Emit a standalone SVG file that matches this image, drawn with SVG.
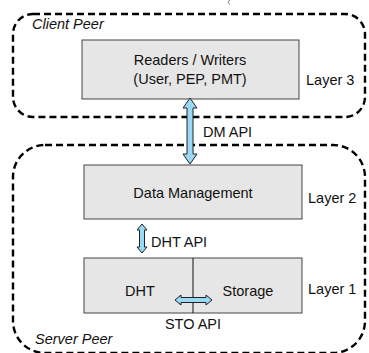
<svg xmlns="http://www.w3.org/2000/svg" width="369" height="353" viewBox="0 0 369 353">
  <defs>
    <style>
      .peer { fill: none; stroke: #000; stroke-width: 2.4; stroke-dasharray: 7 4; }
      .box { fill: #e6e6e6; stroke: #444; stroke-width: 1; }
      .txt { font-family: "Liberation Sans", Arial, sans-serif; font-size: 14.5px; fill: #111; }
      .mid { text-anchor: middle; }
      .it { font-style: italic; }
      .arrow { fill: #99d9f5; stroke: #222; stroke-width: 1; stroke-linejoin: miter; }
    </style>
  </defs>
  <rect width="369" height="353" fill="#fff"/>

  <!-- small stray mark at top edge -->
  <path d="M229.5 0 Q227 2.5 229.5 4.5" fill="none" stroke="#777" stroke-width="1"/>

  <!-- peer boundaries -->
  <g id="client-peer">
    <rect class="peer" x="13" y="14" width="352" height="103" rx="20"/>
    <text class="txt it" x="32" y="29">Client Peer</text>
  </g>
  <g id="server-peer">
    <rect class="peer" x="13" y="145" width="352" height="208" rx="32"/>
    <text class="txt it" x="35" y="344">Server Peer</text>
  </g>

  <!-- layer 3 -->
  <g id="readers-writers">
    <rect class="box" x="82" y="40" width="217" height="59"/>
    <text class="txt mid" x="190" y="65">Readers / Writers</text>
    <text class="txt mid" x="190" y="84">(User, PEP, PMT)</text>
    <text class="txt" x="306" y="85">Layer 3</text>
  </g>

  <!-- layer 2 -->
  <g id="data-management">
    <rect class="box" x="84" y="165" width="218" height="54"/>
    <text class="txt mid" x="193" y="198">Data Management</text>
    <text class="txt" x="308" y="203">Layer 2</text>
  </g>

  <!-- layer 1 -->
  <g id="dht-storage">
    <rect class="box" x="84" y="258" width="218" height="55"/>
    <line x1="193" y1="258" x2="193" y2="313" stroke="#111" stroke-width="1"/>
    <text class="txt mid" x="140" y="296">DHT</text>
    <text class="txt mid" x="248" y="296">Storage</text>
    <text class="txt" x="308" y="294">Layer 1</text>
  </g>

  <!-- interface arrows -->
  <g id="connectors">
    <!-- DM API: vertical double arrow between layers 3 and 2 -->
    <path class="arrow" d="M190 98 L197 108 L193 108 L193 154 L197 154 L190 164 L183 154 L187 154 L187 108 L183 108 Z"/>
    <text class="txt" x="203" y="137">DM API</text>
    <!-- DHT API: vertical double arrow between layers 2 and 1 -->
    <path class="arrow" d="M142 224 L147 230 L144.5 230 L144.5 247 L147 247 L142 253 L137 247 L139.5 247 L139.5 230 L137 230 Z"/>
    <text class="txt" x="151" y="247">DHT API</text>
    <!-- STO API: horizontal double arrow between DHT and Storage -->
    <path class="arrow" d="M175 300 L181 295 L181 297.5 L206 297.5 L206 295 L212 300 L206 305 L206 302.5 L181 302.5 L181 305 Z"/>
    <text class="txt mid" x="193" y="329">STO API</text>
  </g>
</svg>
